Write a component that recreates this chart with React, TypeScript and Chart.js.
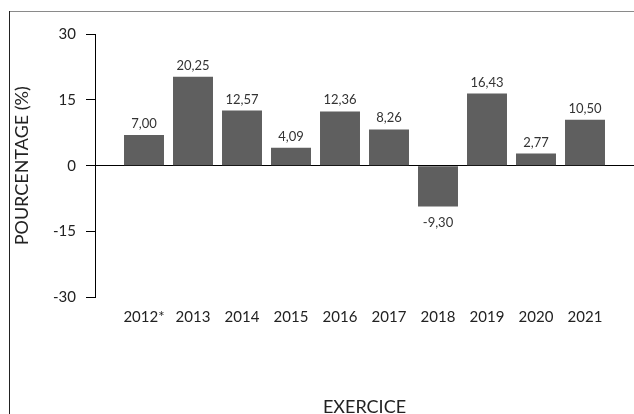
import React, { useEffect, useRef } from "react";
import { Chart, registerables } from "chart.js";

Chart.register(...registerables);

const categories = ["2012*", "2013", "2014", "2015", "2016", "2017", "2018", "2019", "2020", "2021"];
const values = [7.0, 20.25, 12.57, 4.09, 12.36, 8.26, -9.3, 16.43, 2.77, 10.5];
const yTicks = [-30, -15, 0, 15, 30];

const FONT = "Lato, 'Noto Sans', sans-serif";

const valueLabels = {
  id: "valueLabels",
  afterDatasetsDraw(chart: any) {
    const ctx = chart.ctx;
    const meta = chart.getDatasetMeta(0);
    ctx.save();
    ctx.font = `13px ${FONT}`;
    ctx.fillStyle = "#333333";
    ctx.textAlign = "center";
    meta.data.forEach((bar: any, i: number) => {
      const v = chart.data.datasets[0].data[i];
      if (v === null || v === undefined) return;
      const txt = v.toFixed(2).replace(".", ",");
      if (v >= 0) {
        ctx.textBaseline = "alphabetic";
        ctx.fillText(txt, bar.x, bar.y - 7);
      } else {
        ctx.textBaseline = "middle";
        ctx.fillText(txt, bar.x, bar.y + 16);
      }
    });
    ctx.restore();
  },
};

export default function App() {
  const ref = useRef<HTMLCanvasElement | null>(null);

  useEffect(() => {
    if (!ref.current) return;
    const labels = ["", ...categories, ""];
    const data = [null, ...values, null];
    const chart = new Chart(ref.current, {
      type: "bar",
      data: {
        labels,
        datasets: [
          {
            data: data as any,
            backgroundColor: "#5f5f5f",
            borderWidth: 0,
            categoryPercentage: 1,
            barPercentage: 0.816,
          },
        ],
      },
      plugins: [valueLabels],
      options: {
        responsive: false,
        animation: false,
        devicePixelRatio: 1,
        layout: { padding: { top: 34, left: 0, right: 0, bottom: 0 } },
        plugins: {
          legend: { display: false },
          tooltip: { enabled: false },
        },
        scales: {
          x: {
            type: "category",
            offset: false,
            grid: { display: false, drawTicks: false },
            border: { display: false },
            ticks: {
              autoSkip: false,
              maxRotation: 0,
              padding: 11,
              color: "#222222",
              font: { family: FONT, size: 15 },
            },
            title: {
              display: true,
              text: "EXERCICE",
              color: "#222222",
              font: { family: FONT, size: 18, lineHeight: 0.8 },
              padding: 0,
            },
            afterFit(scale: any) {
              scale.height = 116.5;
              scale.paddingLeft = 0;
              scale.paddingRight = 0;
            },
          },
          y: {
            min: -30,
            max: 30,
            afterBuildTicks(scale: any) {
              scale.ticks = yTicks.map((v) => ({ value: v }));
            },
            grid: {
              drawOnChartArea: true,
              color: (c: any) => (c.tick && c.tick.value === 0 ? "#000000" : "rgba(0,0,0,0)"),
              tickColor: "#000000",
              tickLength: 9,
              lineWidth: 1,
            },
            border: { display: true, color: "#000000", width: 1 },
            ticks: {
              padding: 10,
              color: "#222222",
              font: { family: FONT, size: 15 },
            },
            title: {
              display: true,
              text: "POURCENTAGE (%)",
              color: "#222222",
              font: { family: FONT, size: 18, lineHeight: 1.2 },
              padding: { top: 11, bottom: 0 },
            },
            afterFit(scale: any) {
              scale.width = 95;
            },
          },
        },
      },
    });
    return () => chart.destroy();
  }, []);

  return (
    <div style={{ position: "fixed", left: 0, top: 0, width: 634, height: 414, background: "#fff" }}>
      <div style={{ position: "absolute", left: 9, top: 11, width: 625, height: 0, borderTop: "1.5px solid #8a8a8a" }} />
      <div style={{ position: "absolute", left: 9, top: 11, width: 0, height: 403, borderLeft: "1.5px solid #222" }} />
      <canvas ref={ref} width={634} height={414} style={{ position: "absolute", left: 0, top: 0, display: "block" }} />
    </div>
  );
}
